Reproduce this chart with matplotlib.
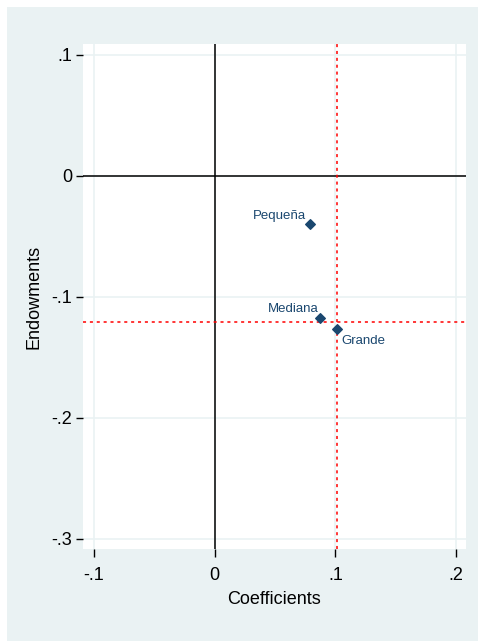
import matplotlib.pyplot as plt
from matplotlib.patches import Rectangle

plt.rcParams['font.family'] = ['Liberation Sans', 'DejaVu Sans']

groups = ['Pequeña', 'Mediana', 'Grande']
coefs = [0.0788, 0.0871, 0.1012]
endow = [-0.0400, -0.1175, -0.1262]
ref_x = 0.101
ref_y = -0.1205

xticks = [-0.1, 0, 0.1, 0.2]
xlabels = ['-.1', '0', '.1', '.2']
yticks = [0.1, 0, -0.1, -0.2, -0.3]
ylabels = ['.1', '0', '-.1', '-.2', '-.3']

navy = '#1a476f'
bg = '#eaf2f3'

fig = plt.figure(figsize=(4.78, 6.41), dpi=100, facecolor='white')
fig.add_artist(Rectangle((7/478, 0), 1, 1 - 7/641, transform=fig.transFigure,
                         facecolor=bg, edgecolor='none', zorder=-5))
ax = fig.add_axes([83/478, 1 - 549/641, (466-83)/478, (549-44)/641])
ax.set_facecolor('white')

ax.set_xlim(-0.1091, 0.2083)
ax.set_ylim(-0.3083, 0.109)

for t in xticks:
    ax.axvline(t, color=bg, lw=1.2, zorder=1)
for t in yticks:
    ax.axhline(t, color=bg, lw=1.2, zorder=1)

ax.axvline(0, color='black', lw=1.1, zorder=2)
ax.axhline(0, color='black', lw=1.1, zorder=2)
ax.axvline(ref_x, color='red', lw=1.1, ls=(0, (2, 2.5)), zorder=3)
ax.axhline(ref_y, color='red', lw=1.1, ls=(0, (2, 2.5)), zorder=3)

ax.scatter(coefs, endow, marker='D', s=24, color=navy, zorder=4)

offsets = {'Pequeña': (-3, 2, 'right', 'bottom'),
           'Mediana': (-1, 2, 'right', 'bottom'),
           'Grande': (3, -4.5, 'left', 'top')}
for g, x, y in zip(groups, coefs, endow):
    dx, dy, ha, va = offsets[g]
    ax.annotate(g, (x, y), xytext=(dx, dy), textcoords='offset points',
                ha=ha, va=va, fontsize=9.5, color=navy)

for s in ax.spines.values():
    s.set_visible(False)
ax.set_xticks(xticks)
ax.set_xticklabels(xlabels, fontsize=13)
ax.set_yticks(yticks)
ax.set_yticklabels(ylabels, fontsize=13)
ax.tick_params(length=5, width=1, color='black', pad=3)
ax.tick_params(axis='x', length=6, pad=7)
ax.set_xlabel('Coefficients', fontsize=13, labelpad=5)
ax.set_ylabel('Endowments', fontsize=13, labelpad=6)

fig.savefig('out.png', dpi=100, facecolor=fig.get_facecolor())
